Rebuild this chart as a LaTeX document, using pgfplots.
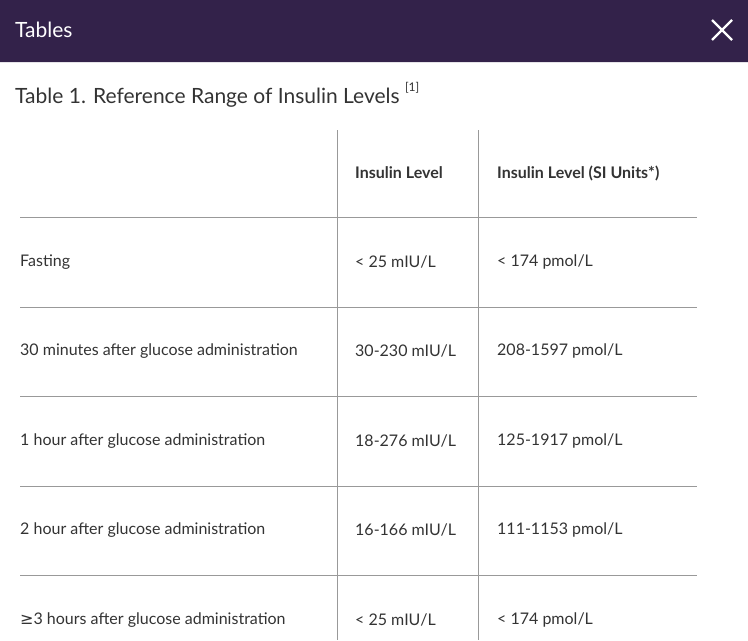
\documentclass[border=0pt]{standalone}
\usepackage{pgfplots}
\pgfplotsset{compat=1.18}
\usepackage{fontspec}
\setmainfont{Lato}
\newfontfamily\dejavu{DejaVu Sans}
\definecolor{hdr}{HTML}{33224A}
\definecolor{txt}{HTML}{333333}
\definecolor{ln}{HTML}{999999}
\tikzset{tx/.style={anchor=west, text=txt, font=\fontsize{16}{18}\selectfont, inner sep=0pt},
  txb/.style={tx, font=\fontsize{16}{18}\selectfont\bfseries}}
\begin{document}
\begin{tikzpicture}
\begin{axis}[scale only axis, width=748pt, height=646pt, xmin=0, xmax=748, ymin=0, ymax=646,
  y dir=reverse, axis lines=none, clip=false]
\addplot[fill=hdr, draw=none] coordinates {(0,0) (748,0) (748,62) (0,62)} \closedcycle;
\addplot[white, line width=2.2pt] coordinates {(712,20) (732,40)};
\addplot[white, line width=2.2pt] coordinates {(712,40) (732,20)};
\node[tx, text=white, font=\fontsize{21}{24}\selectfont] at (axis cs:15,30) {Tables};
\node[tx, font=\fontsize{21}{24}\selectfont] at (axis cs:15,95) {Table 1. Reference Range of Insulin Levels \raisebox{0.55em}{\fontsize{12}{12}\selectfont [1]}};
\addplot[ln, line width=0.6pt] coordinates {(337,130) (337,640)};
\addplot[ln, line width=0.6pt] coordinates {(478,130) (478,640)};
\addplot[ln, line width=0.6pt] coordinates {(20,217) (697,217)};
\addplot[ln, line width=0.6pt] coordinates {(20,307) (697,307)};
\addplot[ln, line width=0.6pt] coordinates {(20,396) (697,396)};
\addplot[ln, line width=0.6pt] coordinates {(20,486) (697,486)};
\addplot[ln, line width=0.6pt] coordinates {(20,575) (697,575)};
\node[txb] at (axis cs:355,173) {Insulin Level};
\node[txb] at (axis cs:497,173) {Insulin Level (SI Units*)};
\node[tx] at (axis cs:20,262) {Fasting};
\node[tx] at (axis cs:355,262) {< 25 mIU/L};
\node[tx] at (axis cs:497,262) {< 174 pmol/L};
\node[tx] at (axis cs:20,351) {30 minutes after glucose administration};
\node[tx] at (axis cs:355,351) {30-230 mIU/L};
\node[tx] at (axis cs:497,351) {208-1597 pmol/L};
\node[tx] at (axis cs:20,441) {1 hour after glucose administration};
\node[tx] at (axis cs:355,441) {18-276 mIU/L};
\node[tx] at (axis cs:497,441) {125-1917 pmol/L};
\node[tx] at (axis cs:20,530) {2 hour after glucose administration};
\node[tx] at (axis cs:355,530) {16-166 mIU/L};
\node[tx] at (axis cs:497,530) {111-1153 pmol/L};
\node[tx] at (axis cs:20,620) {{\dejavu ≥}3 hours after glucose administration};
\node[tx] at (axis cs:355,620) {< 25 mIU/L};
\node[tx] at (axis cs:497,620) {< 174 pmol/L};
\end{axis}
\end{tikzpicture}
\end{document}
